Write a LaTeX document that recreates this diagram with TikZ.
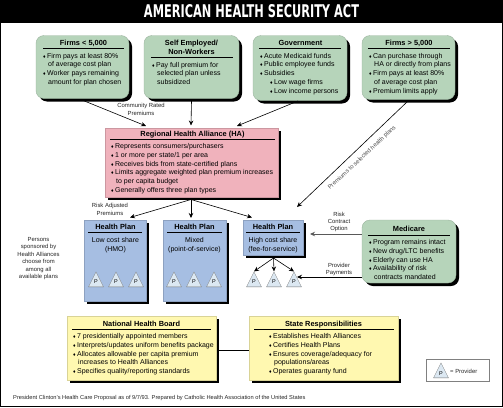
\documentclass[tikz,border=0pt]{standalone}
\usepackage{fontspec}
\usepackage{graphicx}
\setmainfont{Liberation Sans}
\newfontfamily\ttlfont{DejaVu Sans}
\usetikzlibrary{shadows,shapes.geometric,arrows.meta}
\definecolor{grn}{HTML}{B6D4BA}
\definecolor{pnk}{HTML}{F0B2BC}
\definecolor{blu}{HTML}{A6BEE2}
\definecolor{yel}{HTML}{FFF8B0}
\definecolor{tri}{HTML}{DCE8F2}
\newcommand{\bl}{{\fontsize{5}{5}\selectfont ♦}\hspace{1.4pt}}
\newcommand{\bodyfont}{\fontsize{7}{8.7}\selectfont}
\newcommand{\headfont}{\fontsize{7.4}{8.7}\selectfont\bfseries}
\newcommand{\lblfont}{\fontsize{5.9}{7.4}\selectfont}
\tikzset{
  x=1pt,y=-1pt,
  panel/.style={draw=#1!85!black,line width=.4pt,fill=#1,inner sep=0pt,
    drop shadow={shadow xshift=3pt,shadow yshift=-3pt,fill=black,opacity=1}},
  gbox/.style={panel=grn,rounded corners=8pt},
  pbox/.style={panel=pnk},
  bbox/.style={panel=blu},
  ybox/.style={panel=yel},
  head/.style={font=\headfont,align=center,inner sep=0pt,text depth=0pt},
  body/.style={font=\bodyfont,align=left,anchor=north west,inner sep=0pt},
  cbody/.style={font=\bodyfont,align=center,inner sep=0pt},
  lbl/.style={font=\lblfont,align=center,inner sep=0pt,text=black!85},
  hrule/.style={line width=.7pt,black},
  arr/.style={line width=.6pt,-{Stealth[length=5pt,width=4.5pt]}},
  prov/.style={isosceles triangle,shape border rotate=90,isosceles triangle stretches,
    minimum width=15pt,minimum height=15pt,inner sep=0pt,draw=black!55,line width=.3pt,fill=tri,
    anchor=lower side},
  pmark/.style={font=\fontsize{5.5}{6}\selectfont,inner sep=0pt}
}
\newcommand{\provnode}[3]{\node[prov] (#1) at (#2,#3) {};\node[pmark] (#1t) at (#2,#3-5) {P};}
\begin{document}
\begin{tikzpicture}
\useasboundingbox (0,0) rectangle (503,407);
\fill[white] (0,0) rectangle (503,407);
\draw[line width=1.4pt] (.7,0) -- (.7,406.3) -- (502.3,406.3) -- (502.3,0);
\fill[black] (0,0) rectangle (503,23);
\node[text=white,inner sep=0pt] (title) at (251.5,11.5) {\resizebox{215pt}{13pt}{\ttlfont\bfseries AMERICAN HEALTH SECURITY ACT}};
% top boxes
\node[gbox,minimum width=93pt,minimum height=63pt] (fa) at (82.5,67) {};
\node[gbox,minimum width=95pt,minimum height=63pt] (se) at (191.5,67) {};
\node[gbox,minimum width=94pt,minimum height=65pt] (gv) at (300,68) {};
\node[gbox,minimum width=93pt,minimum height=64pt] (fb) at (408.5,67.5) {};
\node[head] (t1) at (83.5,43) {Firms < 5,000};
\draw[hrule] (43,48) -- (124,48);
\node[body] (b1) at (43,53) {\bl Firm pays at least 80\%\\\hspace{5pt}of average cost plan\\\bl Worker pays remaining\\\hspace{5pt}amount for plan chosen};
\node[head] (t2) at (191.5,47) {Self Employed/\\Non-Workers};
\draw[hrule] (151,57) -- (233,57);
\node[body] (b2) at (152,62) {\bl Pay full premium for\\\hspace{5pt}selected plan unless\\\hspace{5pt}subsidized};
\node[head] (t3) at (300.5,43) {Government};
\draw[hrule] (259,48) -- (341,48);
\node[body] (b3) at (260,53) {\bl Acute Medicaid funds\\\bl Public employee funds\\\bl Subsidies\\\hspace{10pt}\bl Low wage firms\\\hspace{10pt}\bl Low income persons};
\node[head] (t4) at (409,43) {Firms > 5,000};
\draw[hrule] (368,48) -- (450,48);
\node[body] (b4) at (369,53) {\bl Can purchase through\\\hspace{5pt}HA or directly from plans\\\bl Firm pays at least 80\%\\\hspace{5pt}of average cost plan\\\bl Premium limits apply};
% HA
\node[pbox,minimum width=173pt,minimum height=69pt] (ha) at (191.5,162.5) {};
\node[head] (t5) at (192.5,134) {Regional Health Alliance (HA)};
\draw[hrule] (110,139) -- (275,139);
\node[body] (b5) at (111,143.5) {\bl Represents consumers/purchasers\\\bl 1 or more per state/1 per area\\\bl Receives bids from state-certified plans\\\bl Limits aggregate weighted plan premium increases\\\hspace{5pt}to per capita budget\\\bl Generally offers three plan types};
% Health plans
\node[bbox,minimum width=62pt,minimum height=81pt] (hp1) at (115,260.5) {};
\node[bbox,minimum width=63pt,minimum height=81pt] (hp2) at (194.5,260.5) {};
\node[bbox,minimum width=60pt,minimum height=35pt] (hp3) at (273,237.5) {};
\node[head] (t6) at (115.5,227) {Health Plan};
\draw[hrule] (88,232.5) -- (142,232.5);
\node[cbody] (c6) at (115.5,245.5) {Low cost share\\(HMO)};
\node[head] (t7) at (194.5,227) {Health Plan};
\draw[hrule] (167,232.5) -- (222,232.5);
\node[cbody] (c7) at (194.5,245.5) {Mixed\\(point-of-service)};
\node[head] (t8) at (273,227) {Health Plan};
\draw[hrule] (246,232.5) -- (300,232.5);
\node[cbody] (c8) at (273,245.5) {High cost share\\(fee-for-service)};
% providers
\provnode{p11}{96}{287}
\provnode{p12}{116}{287}
\provnode{p13}{136}{287}
\provnode{p21}{174}{287}
\provnode{p22}{194}{287}
\provnode{p23}{214}{287}
\provnode{p31}{254}{287}
\provnode{p32}{274}{287}
\provnode{p33}{294}{287}
% Medicare
\node[gbox,minimum width=94pt,minimum height=63pt] (mc) at (409,251.5) {};
\node[head] (t9) at (409,229) {Medicare};
\draw[hrule] (368,235) -- (450,235);
\node[body] (b9) at (369,239.5) {\bl Program remains intact\\\bl New drug/LTC benefits\\\bl Elderly can use HA\\\bl Availability of risk\\\hspace{5pt}contracts mandated};
% bottom
\node[ybox,minimum width=149pt,minimum height=64pt] (nb) at (141.5,348) {};
\node[ybox,minimum width=149pt,minimum height=64pt] (st) at (323.5,348) {};
\draw[line width=.6pt] (nb.east) ++(3,2) -- (st.west |- 0,350);
\node[head] (t10) at (141.5,323.5) {National Health Board};
\draw[hrule] (72,329) -- (211,329);
\node[body] (b10) at (73,333.5) {\bl 7 presidentially appointed members\\\bl Interprets/updates uniform benefits package\\\bl Allocates allowable per capita premium\\\hspace{5pt}increases to Health Alliances\\\bl Specifies quality/reporting standards};
\node[head] (t11) at (323.5,323.5) {State Responsibilities};
\draw[hrule] (254,329) -- (394,329);
\node[body] (b11) at (269,333.5) {\bl Establishes Health Alliances\\\bl Certifies Health Plans\\\bl Ensures coverage/adequacy for\\\hspace{5pt}populations/areas\\\bl Operates guaranty fund};
% connectors
\coordinate (fa1) at (82,100);
\coordinate (ha1) at (146,126);
\coordinate (ha2) at (191,125.5);
\coordinate (ha3) at (237,126);
\coordinate (gv1) at (298,101);
\coordinate (fb1) at (408,101);
\coordinate (hp3a) at (297,207);
\coordinate (hb) at (191,199.5);
\coordinate (hpa) at (130,217.5);
\coordinate (hpb) at (191,218);
\coordinate (hpc) at (252,217.5);
\coordinate (h3b) at (273.5,258);
\draw[arr] (fa1) -- (ha1);
\draw[arr] (se.south |- 0,101) -- (ha2);
\draw[arr] (gv1) -- (ha3);
\draw[arr] (fb1) -- (hp3a);
\draw[arr] (hb) -- (hpa);
\draw[arr] (hb) -- (hpb);
\draw[arr] (hb) -- (hpc);
\draw[arr] (h3b) -- (p31.apex);
\draw[arr] (h3b) -- (p32.apex);
\draw[arr] (h3b) -- (p33.apex);
\draw[line width=1pt,black!65,-{Stealth[length=5pt,width=4.5pt]}] (mc.west |- 0,234) -- (310,234);
\draw[arr] (mc.west |- 0,277) -- (297,277);
% labels
\node[lbl] (l1) at (141,109.5) {Community Rated\\Premiums};
\node[lbl] (l2) at (110,209.5) {Risk Adjusted\\Premiums};
\node[lbl] (l3) at (38.5,258.5) {Persons\\sponsored by\\Health Alliances\\choose from\\among all\\available plans};
\node[lbl] (l4) at (339,222) {Risk\\Contract\\Option};
\node[lbl] (l5) at (339,269.5) {Provider\\Payments};
\node[lbl,rotate=43,text=black!70] (l6) at (362,158) {Premiums to selected health plans};
\node[font=\fontsize{5.7}{6}\selectfont,anchor=west,inner sep=0pt,text=black!85] (foot) at (13,398) {President Clinton's Health Care Proposal as of 9/7/93. Prepared by Catholic Health Association of the United States};
% legend
\node[draw=black!50,line width=.4pt,fill=white,minimum width=63pt,minimum height=22pt,inner sep=0pt] (lg) at (457.5,370) {};
\node[prov] (lgp) at (441,378) {};
\node[pmark] (lgq) at (441,373.5) {P};
\node[lbl,anchor=west] (lgt) at (450,371) {= Provider};
\end{tikzpicture}
\end{document}
